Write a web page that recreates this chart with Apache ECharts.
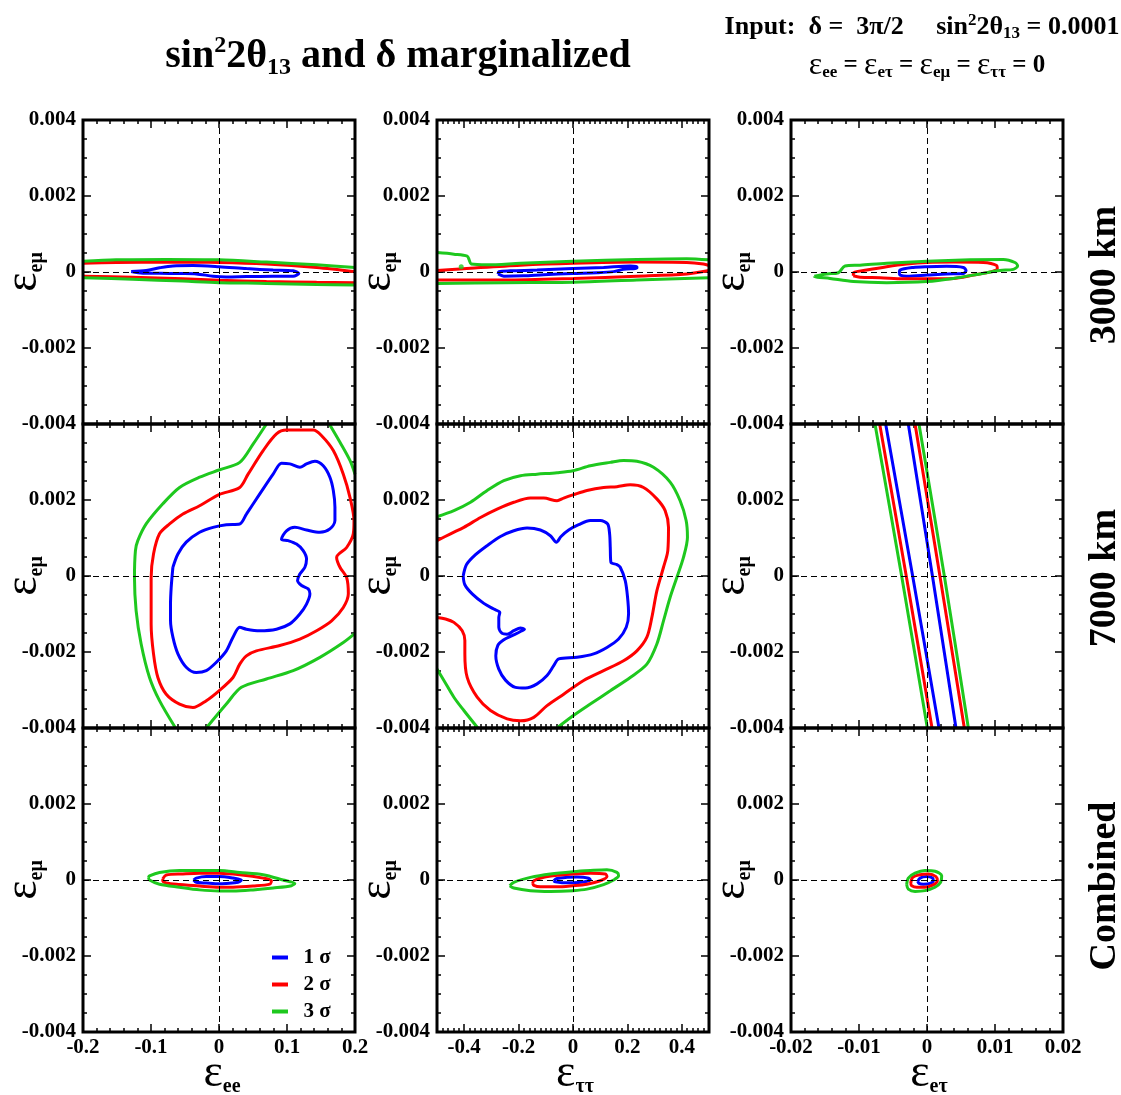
<!DOCTYPE html>
<html><head><meta charset="utf-8">
<script src="https://cdn.jsdelivr.net/npm/echarts/dist/echarts.min.js"></script>
<style>html,body{margin:0;padding:0;background:#fff}#c{width:1121px;height:1095px}</style>
</head><body><div id="c"></div>
<script>
// ---------- axes / labels ----------
const X_RANGES = [[-0.2, 0.2], [-0.5, 0.5], [-0.02, 0.02]];
const X_MAJOR = [[-0.2, -0.1, 0, 0.1, 0.2], [-0.4, -0.2, 0, 0.2, 0.4], [-0.02, -0.01, 0, 0.01, 0.02]];
const X_MINOR_STEP = [0.02, 0.02, 0.002];
const Y_RANGE = [-0.004, 0.004];
const Y_MAJOR = [-0.004, -0.002, 0, 0.002, 0.004];
const Y_MINOR_STEP = 0.0005;
const ROW_NAMES = ['3000 km', '7000 km', 'Combined'];
const X_SUBS = ['ee', 'ττ', 'eτ'];
const Y_SUB = 'eμ';
const LEVELS = ['1 σ', '2 σ', '3 σ'];

// ---------- Row 1 (3000 km) ----------
const R1C1_B = [[-0.1292,0.00001],[-0.1071,0.00004],[-0.0875,0.00011],[-0.0678,0.00016],[-0.0383,0.00017],[0,0.00014],[0.0403,0.00009],[0.0796,0.00005],[0.1091,0.00003],[0.1174,-0.00004],[0.1091,-0.00011],[0.0796,-0.00011],[0.0403,-0.00012],[0.0108,-0.00013],[-0.0088,-0.00011],[-0.0334,-0.00005],[-0.0580,-0.00004],[-0.0875,-0.00003],[-0.1120,-0.00003]];
const R1C1_RU = [[-0.2,0.00023],[-0.1514,0.00025],[-0.0776,0.00026],[0,0.00025],[0.0698,0.00021],[0.1435,0.00012],[0.2,0.00001]];
const R1C1_RL = [[-0.2,-0.00011],[-0.1268,-0.00014],[-0.0531,-0.00018],[0,-0.00022],[0.0698,-0.00025],[0.1435,-0.00027],[0.2,-0.00028]];
const R1C1_GU = [[-0.2,0.00028],[-0.1514,0.00032],[-0.0776,0.00033],[0,0.00032],[0.0698,0.00026],[0.1435,0.00019],[0.2,0.00012]];
const R1C1_GL = [[-0.2,-0.00015],[-0.1268,-0.00019],[-0.0531,-0.00024],[0,-0.00028],[0.0698,-0.00030],[0.1435,-0.00033],[0.2,-0.00034]];

const R1C2_B = [[-0.2752,-0.00005],[-0.2728,0.00001],[-0.2300,0.00003],[-0.1321,0.00005],[0,0.00009],[0.1125,0.00012],[0.2104,0.00016],[0.2349,0.00014],[0.2349,0.00010],[0.1859,0.00007],[0.1492,0.00001],[0.0881,-0.00002],[0,-0.00004],[-0.1076,-0.00007],[-0.1810,-0.00010],[-0.2544,-0.00011]];
const R1C2_RU = [[-0.5,0.00004],[-0.3768,0.00010],[-0.1933,0.00018],[0,0.00023],[0.2349,0.00026],[0.4183,0.00025],[0.4795,0.00021],[0.5,0.00017]];
const R1C2_RL = [[-0.5,-0.00021],[-0.2544,-0.00021],[0,-0.00017],[0.2349,-0.00011],[0.4183,-0.00005],[0.5,0.00004]];
const R1C2_GU = [[-0.5,0.00051],[-0.4379,0.00047],[-0.3890,0.00042],[-0.3817,0.00032],[-0.3743,0.00021],[-0.3156,0.00019],[-0.1933,0.00023],[0,0.00028],[0.2349,0.00033],[0.4183,0.00035],[0.5,0.00032]];
const R1C2_GL = [[-0.5,-0.00030],[-0.2544,-0.00028],[0,-0.00027],[0.2349,-0.00021],[0.5,-0.00015]];
const R1C2_GDOT = [[-0.411,0.00014]];

const R1C3_B = [[-0.00407,-0.00004],[-0.00397,0.00005],[-0.00201,0.00012],[0,0.00014],[0.00289,0.00015],[0.00534,0.00012],[0.00574,0.00004],[0.00534,-0.00004],[0.00289,-0.00005],[0,-0.00008],[-0.00299,-0.00011],[-0.00397,-0.00008]];
const R1C3_R = [[-0.01083,-0.00010],[-0.01083,-0.00002],[-0.00887,0.00005],[-0.00593,0.00014],[-0.00299,0.00021],[0,0.00025],[0.00387,0.00026],[0.00828,0.00025],[0.01025,0.00017],[0.01034,0.00009],[0.00951,0.00001],[0.00681,-0.00008],[0.00387,-0.00017],[0,-0.00018],[-0.00348,-0.00018],[-0.00691,-0.00015],[-0.00985,-0.00014]];
const R1C3_G = [[-0.01657,-0.00011],[-0.01475,-0.00005],[-0.01304,-0.00002],[-0.01206,0.00016],[-0.00985,0.00018],[-0.00593,0.00023],[0,0.00028],[0.00632,0.00032],[0.01123,0.00033],[0.01294,0.00025],[0.01333,0.00016],[0.01270,0.00007],[0.01074,0.00004],[0.00779,-0.00005],[0.00387,-0.00017],[0,-0.00025],[-0.00593,-0.00028],[-0.01083,-0.00025],[-0.01426,-0.00017],[-0.01657,-0.00012]];

// ---------- Row 2 (7000 km) ----------
const R2C1_B = [[-0.0678,0.00023],[-0.0604,0.00058],[-0.0482,0.00089],[-0.0285,0.00115],[-0.0088,0.00128],[0.0108,0.00135],[0.0305,0.00137],[0.0403,0.00163],[0.0600,0.00216],[0.0796,0.00268],[0.0919,0.00297],[0.1042,0.00295],[0.1189,0.00286],[0.1287,0.00295],[0.1410,0.00302],[0.1533,0.00290],[0.1631,0.00260],[0.1681,0.00225],[0.1705,0.00181],[0.1705,0.00146],[0.1631,0.00124],[0.1484,0.00115],[0.1287,0.00121],[0.1115,0.00128],[0.0993,0.00119],[0.0919,0.00097],[0.1017,0.00093],[0.1140,0.00084],[0.1238,0.00067],[0.1287,0.00045],[0.1263,0.00023],[0.1189,0.00005],[0.1155,-0.00012],[0.1214,-0.00025],[0.1312,-0.00034],[0.1337,-0.00047],[0.1287,-0.00074],[0.1189,-0.00100],[0.1042,-0.00126],[0.0845,-0.00140],[0.0600,-0.00144],[0.0403,-0.00140],[0.0305,-0.00135],[0.0206,-0.00161],[0.0108,-0.00197],[-0.0039,-0.00227],[-0.0187,-0.00249],[-0.0334,-0.00254],[-0.0482,-0.00240],[-0.0604,-0.00205],[-0.0678,-0.00161],[-0.0713,-0.00118],[-0.0713,-0.00074],[-0.0703,-0.00030]];
const R2C1_R = [[-0.0998,-0.00056],[-0.0998,-0.00004],[-0.0963,0.00058],[-0.0875,0.00111],[-0.0727,0.00137],[-0.0531,0.00163],[-0.0285,0.00185],[0,0.00214],[0.0305,0.00233],[0.0428,0.00268],[0.0649,0.00330],[0.0845,0.00374],[0.0993,0.00384],[0.1386,0.00384],[0.1509,0.00369],[0.1681,0.00330],[0.1828,0.00268],[0.1926,0.00207],[0.1985,0.00146],[0.1975,0.00111],[0.1877,0.00075],[0.1730,0.00049],[0.1779,0.00023],[0.1877,-0.00004],[0.1902,-0.00047],[0.1828,-0.00083],[0.1656,-0.00118],[0.1435,-0.00144],[0.1189,-0.00166],[0.0894,-0.00183],[0.0550,-0.00197],[0.0403,-0.00210],[0.0305,-0.00232],[0.0206,-0.00267],[0,-0.00302],[-0.0187,-0.00328],[-0.0383,-0.00346],[-0.0580,-0.00337],[-0.0776,-0.00311],[-0.0899,-0.00267],[-0.0963,-0.00205],[-0.0998,-0.00126]];
const R2C1_G1 = [[0.0698,0.00400],[0.0501,0.00347],[0.0305,0.00299],[0,0.00279],[-0.0285,0.00260],[-0.0580,0.00233],[-0.0826,0.00190],[-0.1071,0.00137],[-0.1194,0.00093],[-0.1229,0.00067],[-0.1243,-0.00004],[-0.1219,-0.00091],[-0.1145,-0.00179],[-0.1022,-0.00267],[-0.0875,-0.00328],[-0.0639,-0.00400]];
const R2C1_G2 = [[-0.0187,-0.00400],[0.0108,-0.00337],[0.0329,-0.00293],[0.0698,-0.00271],[0.1091,-0.00249],[0.1484,-0.00214],[0.1828,-0.00175],[0.2000,-0.00151]];
const R2C1_G3 = [[0.1622,0.00400],[0.1779,0.00352],[0.1926,0.00304],[0.2000,0.00268]];

const R2C2_B = [[-0.4037,0],[-0.3914,0.00030],[-0.3584,0.00056],[-0.3156,0.00080],[-0.2667,0.00104],[-0.2177,0.00119],[-0.1688,0.00126],[-0.1199,0.00121],[-0.0832,0.00106],[-0.0612,0.00089],[-0.0440,0.00104],[-0.0159,0.00121],[0.0208,0.00135],[0.0636,0.00146],[0.1003,0.00146],[0.1272,0.00137],[0.1346,0.00111],[0.1370,0.00075],[0.1394,0.00036],[0.1615,0.00030],[0.1737,0.00023],[0.1920,-0.00012],[0.2006,-0.00056],[0.2043,-0.00100],[0.1957,-0.00135],[0.1676,-0.00166],[0.1248,-0.00188],[0.0758,-0.00205],[0.0147,-0.00214],[-0.0526,-0.00218],[-0.0709,-0.00236],[-0.0954,-0.00262],[-0.1321,-0.00284],[-0.1749,-0.00295],[-0.2116,-0.00293],[-0.2483,-0.00274],[-0.2728,-0.00245],[-0.2838,-0.00210],[-0.2765,-0.00183],[-0.2544,-0.00168],[-0.2239,-0.00157],[-0.1933,-0.00146],[-0.1786,-0.00140],[-0.1933,-0.00137],[-0.2177,-0.00144],[-0.2422,-0.00153],[-0.2606,-0.00151],[-0.2728,-0.00135],[-0.2728,-0.00109],[-0.2691,-0.00096],[-0.2911,-0.00087],[-0.3278,-0.00072],[-0.3706,-0.00047],[-0.3976,-0.00023]];
const R2C2_R = [[-0.5,0.00093],[-0.4502,0.00111],[-0.4012,0.00128],[-0.3401,0.00154],[-0.2789,0.00176],[-0.2177,0.00194],[-0.1566,0.00205],[-0.1076,0.00205],[-0.0587,0.00198],[-0.0343,0.00205],[0.0024,0.00214],[0.0514,0.00225],[0.1125,0.00233],[0.1615,0.00235],[0.2104,0.00240],[0.2593,0.00233],[0.3083,0.00203],[0.3388,0.00172],[0.3511,0.00128],[0.3486,0.00067],[0.3327,0.00023],[0.3083,-0.00039],[0.2899,-0.00109],[0.2716,-0.00161],[0.2349,-0.00197],[0.1859,-0.00223],[0.1125,-0.00249],[0.0391,-0.00275],[-0.0343,-0.00311],[-0.0954,-0.00341],[-0.1443,-0.00372],[-0.1933,-0.00381],[-0.2422,-0.00376],[-0.3034,-0.00354],[-0.3523,-0.00319],[-0.3890,-0.00267],[-0.3976,-0.00205],[-0.3976,-0.00170],[-0.4073,-0.00144],[-0.4379,-0.00122],[-0.4685,-0.00113],[-0.5,-0.00109]];
const R2C2_G1 = [[-0.5,0.00156],[-0.4379,0.00172],[-0.3768,0.00194],[-0.3156,0.00225],[-0.2544,0.00251],[-0.1933,0.00264],[-0.1321,0.00268],[-0.0587,0.00272],[0,0.00277],[0.0636,0.00290],[0.1370,0.00299],[0.1859,0.00304],[0.2349,0.00302],[0.2960,0.00286],[0.3572,0.00247],[0.3939,0.00198],[0.4159,0.00146],[0.4208,0.00102],[0.4061,0.00049],[0.3817,-0.00004],[0.3572,-0.00056],[0.3327,-0.00118],[0.3083,-0.00179],[0.2716,-0.00232],[0.2104,-0.00267],[0.1370,-0.00302],[0.0636,-0.00337],[0,-0.00368],[-0.0587,-0.00400]];
const R2C2_G2 = [[-0.5,-0.00245],[-0.4746,-0.00275],[-0.4379,-0.00319],[-0.4012,-0.00354],[-0.3499,-0.00400]];

const R2C3_BL = [[-0.00608,0.004],[-0.00211,0],[0.00176,-0.004]];
const R2C3_BR = [[-0.00275,0.004],[0.00080,0],[0.00426,-0.004]];
const R2C3_RL = [[-0.00696,0.004],[-0.00305,0],[0.00074,-0.004]];
const R2C3_RR = [[-0.00176,0.004],[0.00190,0],[0.00549,-0.004]];
const R2C3_GL = [[-0.00765,0.004],[-0.00373,0],[0.00005,-0.004]];
const R2C3_GR = [[-0.00118,0.004],[0.00255,0],[0.00608,-0.004]];

// ---------- Row 3 (Combined) ----------
const R3C1_B = [[-0.0373,0],[-0.0334,0.00005],[-0.0187,0.00009],[0,0.00009],[0.0206,0.00005],[0.0329,0],[0.0280,-0.00006],[0.0108,-0.00009],[0,-0.00010],[-0.0187,-0.00008],[-0.0334,-0.00006]];
const R3C1_R = [[-0.0826,0.00003],[-0.0776,0.00013],[-0.0531,0.00016],[-0.0285,0.00018],[0,0.00018],[0.0305,0.00014],[0.0649,0.00005],[0.0771,-0.00002],[0.0747,-0.00011],[0.0501,-0.00016],[0.0206,-0.00019],[0,-0.00019],[-0.0285,-0.00016],[-0.0580,-0.00012],[-0.0776,-0.00008],[-0.0826,-0.00002]];
const R3C1_G = [[-0.1037,0.00007],[-0.1022,0.00011],[-0.0875,0.00020],[-0.0580,0.00025],[-0.0285,0.00025],[0,0.00025],[0.0305,0.00020],[0.0649,0.00014],[0.0943,0],[0.1115,-0.00009],[0.1066,-0.00015],[0.0796,-0.00021],[0.0501,-0.00026],[0.0206,-0.00029],[0,-0.00029],[-0.0285,-0.00026],[-0.0580,-0.00019],[-0.0875,-0.00011],[-0.1022,0]];

const R3C2_B = [[-0.0709,-0.00002],[-0.0587,0.00004],[-0.0220,0.00007],[0.0147,0.00008],[0.0575,0.00005],[0.0636,0],[0.0391,-0.00005],[0,-0.00007],[-0.0404,-0.00007],[-0.0648,-0.00005]];
const R3C2_R = [[-0.1480,-0.00009],[-0.1443,-0.00002],[-0.1076,0.00007],[-0.0465,0.00013],[0,0.00016],[0.0636,0.00018],[0.1187,0.00016],[0.1248,0.00009],[0.1003,-0.00002],[0.0514,-0.00011],[0,-0.00015],[-0.0587,-0.00018],[-0.1199,-0.00018],[-0.1443,-0.00014]];
const R3C2_G = [[-0.2324,-0.00015],[-0.2177,-0.00006],[-0.1566,0.00007],[-0.0832,0.00016],[0,0.00022],[0.0636,0.00025],[0.1248,0.00027],[0.1615,0.00020],[0.1676,0.00011],[0.1492,0],[0.1125,-0.00012],[0.0514,-0.00024],[0,-0.00028],[-0.0832,-0.00030],[-0.1566,-0.00028],[-0.2177,-0.00021]];

const R3C3_B = [[-0.00137,-0.00004],[-0.00103,0.00005],[-0.00005,0.00009],[0.00083,0.00005],[0.00093,-0.00002],[0.00044,-0.00009],[-0.00054,-0.00011],[-0.00118,-0.00009]];
const R3C3_R = [[-0.00240,-0.00009],[-0.00211,0.00007],[-0.00103,0.00014],[0.00020,0.00016],[0.00132,0.00009],[0.00152,-0.00002],[0.00093,-0.00013],[-0.00029,-0.00019],[-0.00152,-0.00019],[-0.00225,-0.00015]];
const R3C3_G = [[-0.00299,-0.00012],[-0.00275,0.00005],[-0.00176,0.00018],[-0.00029,0.00025],[0.00118,0.00023],[0.00216,0.00011],[0.00201,-0.00006],[0.00118,-0.00019],[-0.00029,-0.00028],[-0.00176,-0.00030],[-0.00275,-0.00024]];

// panel -> contours: [level index, data, closed]
const PANELS = [
  [[0,R1C1_B,1],[1,R1C1_RU,0],[1,R1C1_RL,0],[2,R1C1_GU,0],[2,R1C1_GL,0]],
  [[0,R1C2_B,1],[1,R1C2_RU,0],[1,R1C2_RL,0],[2,R1C2_GU,0],[2,R1C2_GL,0]],
  [[0,R1C3_B,1],[1,R1C3_R,1],[2,R1C3_G,1]],
  [[0,R2C1_B,1],[1,R2C1_R,1],[2,R2C1_G1,0],[2,R2C1_G2,0],[2,R2C1_G3,0]],
  [[0,R2C2_B,1],[1,R2C2_R,0],[2,R2C2_G1,0],[2,R2C2_G2,0]],
  [[0,R2C3_BL,0],[0,R2C3_BR,0],[1,R2C3_RL,0],[1,R2C3_RR,0],[2,R2C3_GL,0],[2,R2C3_GR,0]],
  [[0,R3C1_B,1],[1,R3C1_R,1],[2,R3C1_G,1]],
  [[0,R3C2_B,1],[1,R3C2_R,1],[2,R3C2_G,1]],
  [[0,R3C3_B,1],[1,R3C3_R,1],[2,R3C3_G,1]]
];

// ---------- styling ----------
const COLORS = ['#0000ff', '#ff0000', '#1ec81e'];
const FONT = 'Liberation Serif';
const GL = [83, 437, 791], GT = [120, 424, 728], GW = 272, GH = 304;

const grids = [], xAxes = [], yAxes = [], series = [];
const tickStyle = { color: '#000', width: 1.5 };
const labStyle = { color: '#000', fontFamily: FONT, fontWeight: 'bold', fontSize: 21 };

for (let r = 0; r < 3; r++) {
  for (let c = 0; c < 3; c++) {
    const g = r * 3 + c;
    grids.push({ left: GL[c], top: GT[r], width: GW, height: GH, show: true, borderColor: '#000', borderWidth: 3, backgroundColor: 'transparent', z: 5 });
    const xr = X_RANGES[c];
    ['bottom', 'top'].forEach(pos => xAxes.push({
      gridIndex: g, type: 'value', min: xr[0], max: xr[1], position: pos,
      axisLine: { show: false, onZero: false }, splitLine: { show: false },
      axisTick: { show: true, inside: true, length: 8, lineStyle: tickStyle, customValues: X_MAJOR[c] },
      axisLabel: Object.assign({ show: pos === 'bottom' && r === 2, customValues: X_MAJOR[c], margin: 5 }, labStyle)
    }));
    ['bottom', 'top'].forEach(pos => xAxes.push({
      gridIndex: g, type: 'value', min: xr[0], max: xr[1], interval: X_MINOR_STEP[c], position: pos,
      axisLine: { show: false, onZero: false }, splitLine: { show: false },
      axisTick: { show: true, inside: true, length: 4, lineStyle: tickStyle },
      axisLabel: { show: false }
    }));
    const yl = r === 0 ? Y_MAJOR : Y_MAJOR.slice(0, 4);
    ['left', 'right'].forEach(pos => yAxes.push({
      gridIndex: g, type: 'value', min: Y_RANGE[0], max: Y_RANGE[1], position: pos,
      axisLine: { show: false, onZero: false }, splitLine: { show: false },
      axisTick: { show: true, inside: true, length: 8, lineStyle: tickStyle, customValues: Y_MAJOR },
      axisLabel: Object.assign({ show: pos === 'left', customValues: yl, margin: 7 }, labStyle)
    }));
    ['left', 'right'].forEach(pos => yAxes.push({
      gridIndex: g, type: 'value', min: Y_RANGE[0], max: Y_RANGE[1], interval: Y_MINOR_STEP, position: pos,
      axisLine: { show: false, onZero: false }, splitLine: { show: false },
      axisTick: { show: true, inside: true, length: 4, lineStyle: tickStyle },
      axisLabel: { show: false }
    }));
    let first = true;
    PANELS[g].forEach(([lv, pts, closed]) => {
      const data = closed ? pts.concat([pts[0]]) : pts;
      const s = {
        type: 'line', name: LEVELS[lv], xAxisIndex: 4 * g, yAxisIndex: 4 * g, data: data,
        symbol: 'none', showSymbol: false, smooth: 0.3, clip: true, z: 3,
        lineStyle: { color: COLORS[lv], width: 3 }, itemStyle: { color: COLORS[lv] }
      };
      if (first) {
        s.markLine = {
          silent: true, symbol: ['none', 'none'], label: { show: false },
          lineStyle: { color: '#000', width: 1, type: [6, 4] },
          data: [{ xAxis: 0 }, { yAxis: 0 }]
        };
        first = false;
      }
      series.push(s);
    });
  }
}
series.push({
  type: 'scatter', name: LEVELS[2], xAxisIndex: 4, yAxisIndex: 4, data: R1C2_GDOT,
  symbolSize: 5, itemStyle: { color: COLORS[2] }, z: 3
});

// ---------- text ----------
const graphic = [];
const richEps = {
  e: { fontFamily: FONT, fontSize: 46, lineHeight: 46, fill: '#000' },
  s: { fontFamily: FONT, fontSize: 20, fontWeight: 'bold', lineHeight: 18, verticalAlign: 'bottom', fill: '#000' }
};
graphic.push({
  type: 'text', x: 398, y: 57, style: {
    text: '{m|sin}{sup|2}{m|2θ}{sub|13}{m| and δ marginalized}', align: 'center', verticalAlign: 'middle',
    rich: {
      m: { fontFamily: FONT, fontSize: 40, fontWeight: 'bold', lineHeight: 46, fill: '#000' },
      sup: { fontFamily: FONT, fontSize: 24, fontWeight: 'bold', lineHeight: 20, verticalAlign: 'top', fill: '#000' },
      sub: { fontFamily: FONT, fontSize: 24, fontWeight: 'bold', lineHeight: 16, verticalAlign: 'bottom', fill: '#000' }
    }
  }
});
graphic.push({
  type: 'text', x: 922, y: 27, style: {
    text: '{m|Input:  δ =  3π/2     sin}{sup|2}{m|2θ}{sub|13}{m| = 0.0001}', align: 'center', verticalAlign: 'middle',
    rich: {
      m: { fontFamily: FONT, fontSize: 26, fontWeight: 'bold', lineHeight: 30, fill: '#000' },
      sup: { fontFamily: FONT, fontSize: 17, fontWeight: 'bold', lineHeight: 12, verticalAlign: 'top', fill: '#000' },
      sub: { fontFamily: FONT, fontSize: 17, fontWeight: 'bold', lineHeight: 8, verticalAlign: 'bottom', fill: '#000' }
    }
  }
});
graphic.push({
  type: 'text', x: 927, y: 66, style: {
    text: '{e|ε}{s|ee}{m| = }{e|ε}{s|eτ}{m| = }{e|ε}{s|eμ}{m| = }{e|ε}{s|ττ}{m| = 0}', align: 'center', verticalAlign: 'middle',
    rich: {
      e: { fontFamily: FONT, fontSize: 32, lineHeight: 30, fill: '#000' },
      m: { fontFamily: FONT, fontSize: 25, fontWeight: 'bold', lineHeight: 30, fill: '#000' },
      s: { fontFamily: FONT, fontSize: 17, fontWeight: 'bold', lineHeight: 12, verticalAlign: 'bottom', fill: '#000' }
    }
  }
});
const XT_X = [222, 575, 929];
for (let c = 0; c < 3; c++) {
  graphic.push({ type: 'text', x: XT_X[c], y: 1074, style: { text: '{e|ε}{s|' + X_SUBS[c] + '}', align: 'center', verticalAlign: 'middle', rich: richEps } });
  for (let r = 0; r < 3; r++) {
    graphic.push({ type: 'text', x: GL[c] - 59, y: GT[r] + GH / 2, rotation: Math.PI / 2, style: { text: '{e|ε}{s|' + Y_SUB + '}', align: 'center', verticalAlign: 'middle', rich: richEps } });
  }
}
const RL_Y = [275, 578, 886];
for (let r = 0; r < 3; r++) {
  graphic.push({ type: 'text', x: 1105, y: RL_Y[r], rotation: Math.PI / 2, style: { text: ROW_NAMES[r], align: 'center', verticalAlign: 'middle', fontFamily: FONT, fontSize: 38, fontWeight: 'bold', fill: '#000' } });
}

const chart = echarts.init(document.getElementById('c'), null, { renderer: 'canvas' });
chart.setOption({
  animation: false,
  backgroundColor: '#fff',
  grid: grids, xAxis: xAxes, yAxis: yAxes, series: series,
  legend: {
    data: LEVELS, orient: 'vertical', left: 267, top: 942, icon: 'rect', itemWidth: 16, itemHeight: 4, itemGap: 6,
    selectedMode: false, formatter: n => '  ' + n,
    textStyle: { fontFamily: FONT, fontSize: 21, fontWeight: 'bold', color: '#000' }
  },
  graphic: graphic
});
</script></body></html>
